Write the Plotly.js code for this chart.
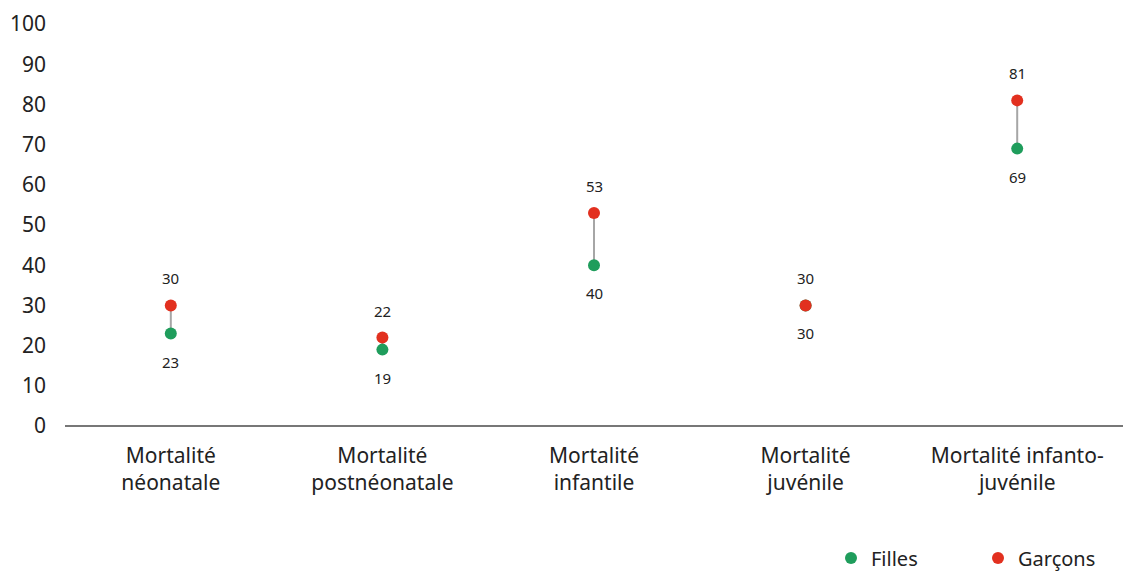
<!DOCTYPE html>
<html><head><meta charset="utf-8">
<script src="https://cdn.plot.ly/plotly-3.0.1.min.js"></script>
<style>html,body{margin:0;padding:0;background:#fff}#chart{width:1136px;height:571px}</style>
</head><body><div id="chart"></div>
<script>
const categories = ["Mortalité<br>néonatale", "Mortalité<br>postnéonatale", "Mortalité<br>infantile", "Mortalité<br>juvénile", "Mortalité infanto-<br>juvénile"];
const filles = [23, 19, 40, 30, 69];
const garcons = [30, 22, 53, 30, 81];
const yTicks = [0, 10, 20, 30, 40, 50, 60, 70, 80, 90, 100];

const green = "#1f9d5c", red = "#e2301f";
const font = "Noto Sans, sans-serif";
const traces = [];
categories.forEach((c, i) => {
  traces.push({x: [c, c], y: [filles[i], garcons[i]], mode: "lines", line: {color: "#a6a6a6", width: 2}, showlegend: false, hoverinfo: "skip"});
});
traces.push({x: categories, y: filles, name: "Filles", mode: "markers", marker: {color: green, size: 12}});
traces.push({x: categories, y: garcons, name: "Garçons", mode: "markers", marker: {color: red, size: 12}});

const annotations = [];
categories.forEach((c, i) => {
  annotations.push({x: c, y: garcons[i], text: String(garcons[i]), showarrow: false, yshift: 27, font: {family: font, size: 15, color: "#222"}});
  annotations.push({x: c, y: filles[i], text: String(filles[i]), showarrow: false, yshift: -28, font: {family: font, size: 15, color: "#222"}});
});

const layout = {
  width: 1136, height: 571,
  margin: {l: 65, r: 13, t: 24, b: 145, autoexpand: false},
  paper_bgcolor: "#fff", plot_bgcolor: "#fff",
  font: {family: font, color: "#222"},
  xaxis: {type: "category", range: [-0.5, 4.5], showgrid: false, zeroline: false, showline: false, ticks: "", ticklabelstandoff: 15, tickfont: {size: 21, color: "#222"}, automargin: false},
  yaxis: {range: [0, 100], tickvals: yTicks, showgrid: false, zeroline: true, zerolinecolor: "#777", zerolinewidth: 1.5, showline: false, ticks: "", ticklabelstandoff: 18, tickfont: {size: 21, color: "#222"}, automargin: false},
  showlegend: true,
  legend: {orientation: "h", x: 0.724, xanchor: "left", y: -0.28, yanchor: "top", font: {size: 20, color: "#222"}, itemwidth: 30, entrywidth: 102, traceorder: "normal"},
  annotations: annotations
};
Plotly.newPlot("chart", traces, layout, {displayModeBar: false, staticPlot: true});
</script></body></html>
